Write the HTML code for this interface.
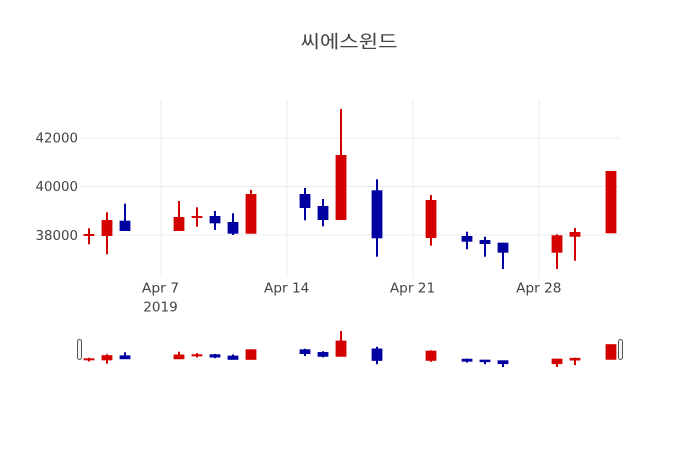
<!DOCTYPE html>
<html><head><meta charset="utf-8"><style>
html,body{margin:0;padding:0;background:#fff;}
svg{display:block;}
text{font-family:"DejaVu Sans","Liberation Sans",sans-serif;fill:#444;}
</style></head><body>
<svg id="s" width="700" height="450" viewBox="0 0 700 450" xmlns="http://www.w3.org/2000/svg">
<rect width="700" height="450" fill="#fff"/>
<g stroke="#ebebeb" stroke-width="1">
<line x1="161" y1="100" x2="161" y2="278"/>
<line x1="287" y1="100" x2="287" y2="278"/>
<line x1="413" y1="100" x2="413" y2="278"/>
<line x1="539" y1="100" x2="539" y2="278"/>
<line x1="80" y1="138" x2="620" y2="138"/>
<line x1="80" y1="186.5" x2="620" y2="186.5"/>
<line x1="80" y1="235" x2="620" y2="235"/>
</g>
<g id="main"></g>
<g id="slider"></g>
<rect x="77.5" y="339.5" width="4" height="20" rx="2" fill="#f4f4f4" stroke="#555" stroke-width="1"/>
<rect x="618.5" y="339.5" width="4" height="20" rx="2" fill="#f4f4f4" stroke="#555" stroke-width="1"/>
<g font-size="13">
<text x="78" y="142.7" text-anchor="end" textLength="42.5" lengthAdjust="spacingAndGlyphs">42000</text>
<text x="78" y="191" text-anchor="end" textLength="42.5" lengthAdjust="spacingAndGlyphs">40000</text>
<text x="78" y="240" text-anchor="end" textLength="42.5" lengthAdjust="spacingAndGlyphs">38000</text>
<text x="160.5" y="292.6" text-anchor="middle" textLength="37.3" lengthAdjust="spacingAndGlyphs">Apr 7</text>
<text x="160.5" y="311.6" text-anchor="middle" textLength="34.5" lengthAdjust="spacingAndGlyphs">2019</text>
<text x="286.7" y="292.6" text-anchor="middle" textLength="45.3" lengthAdjust="spacingAndGlyphs">Apr 14</text>
<text x="412.5" y="292.6" text-anchor="middle" textLength="45.3" lengthAdjust="spacingAndGlyphs">Apr 21</text>
<text x="538.8" y="292.6" text-anchor="middle" textLength="45.3" lengthAdjust="spacingAndGlyphs">Apr 28</text>
</g>
<text x="349" y="48" text-anchor="middle" font-size="18" textLength="97" lengthAdjust="spacingAndGlyphs" style="font-family:'Liberation Sans','Noto Sans CJK KR',sans-serif;fill:#444;">씨에스윈드</text>
</svg>
<script>
var R="#d40000",B="#0000a0";
var d=[
[89,234,236,228.3,244.3,R],
[107,220,236,212.3,254.3,R],
[125,220.7,231,203.7,231,B],
[179,217,231,201,231,R],
[197,216,218,207.3,226.7,R],
[215,216,223.3,211,230,B],
[233,222,233.7,213.3,235,B],
[251,194,233.7,190,233.7,R],
[305,194,208,188,220.3,B],
[323,206,220,199,226.3,B],
[341,155,220,109,220,R],
[377,190.3,238.3,179.3,256.7,B],
[431,200,238,195,245.7,R],
[467,236,241.7,231.7,249.3,B],
[485,240,244,236.7,256.7,B],
[503,242.7,252.7,242.7,269,B],
[557,235.3,252.7,234.3,269,R],
[575,232,236.7,228,260.7,R],
[611,171,233.3,171,233.3,R]
];
var NS="http://www.w3.org/2000/svg";
function r(g,x,y,w,h,c){var e=document.createElementNS(NS,"rect");e.setAttribute("x",x);e.setAttribute("y",y);e.setAttribute("width",w);e.setAttribute("height",Math.max(h,0));e.setAttribute("fill",c);g.appendChild(e);}
var m=document.getElementById("main"),s=document.getElementById("slider");
function sy(y){return 306.53+0.2247*y;}
d.forEach(function(c){
 var x=c[0];
 r(m,x-1,c[3],2,c[4]-c[3],c[5]);
 r(m,x-5.4,c[1],10.8,c[2]-c[1],c[5]);
 var wt=sy(c[3]),wb=sy(c[4]),bt=sy(c[1]+1)-1,bb=sy(c[2]-1)+1;
 if(bb-bt<2){var mid=(bt+bb)/2;bt=mid-1;bb=mid+1;}
 r(s,x-1,wt,2,wb-wt,c[5]);
 r(s,x-5.4,bt,10.8,bb-bt,c[5]);
});
</script>
</body></html>
